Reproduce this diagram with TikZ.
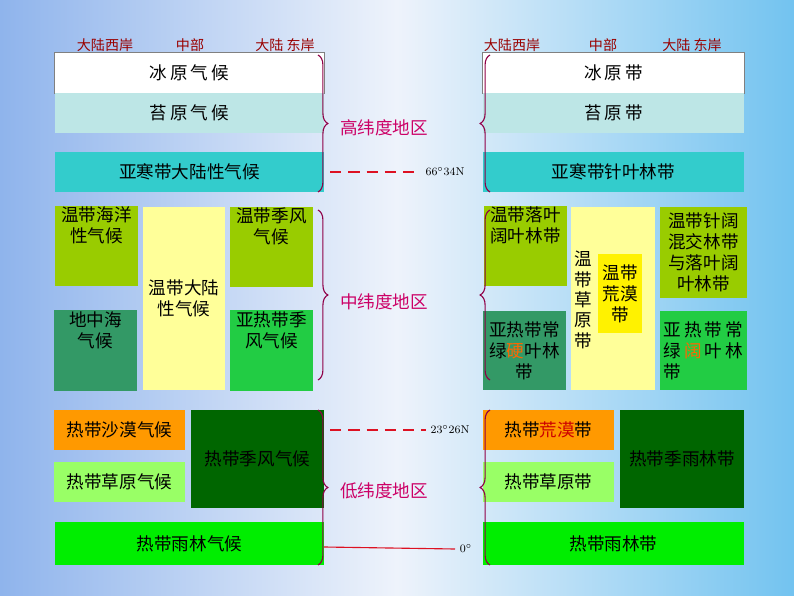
\documentclass[tikz,border=0pt]{standalone}
\usepackage{fontspec}
\newfontfamily\cjk{Noto Sans CJK SC}
\usetikzlibrary{decorations.pathreplacing}
\definecolor{olivez}{HTML}{99CC00}
\definecolor{medz}{HTML}{339966}
\definecolor{greenz}{HTML}{22CC44}
\definecolor{darkz}{HTML}{006600}
\definecolor{grassz}{HTML}{99FF66}
\definecolor{rainz}{HTML}{00EE00}
\definecolor{tundraz}{HTML}{BDE6E6}
\definecolor{taigaz}{HTML}{33CCCC}
\definecolor{steppez}{HTML}{FFFF99}
\definecolor{deserz}{HTML}{FF9900}
\definecolor{regionz}{HTML}{CC0066}
\definecolor{headz}{HTML}{990000}
\definecolor{linez}{HTML}{DD1122}
\definecolor{bgside}{HTML}{8FB4EC}
\definecolor{bgmid}{HTML}{EEF3FB}
\newcommand{\zone}[7]{%
  \node[zonebox, fill=#6, minimum width={(#4-#2)*0.025cm}, minimum height={(#5-#3)*0.025cm}]
    (#1) at ({(#2+#4)/2},{(#3+#5)/2}) {#7};}

\begin{document}
\begin{tikzpicture}[
    x=0.025cm, y=-0.025cm,
    font=\cjk\fontsize{12.5}{15}\selectfont,
    zonebox/.style={rectangle, inner sep=1pt, align=center},
    head/.style={text=headz, font=\cjk\fontsize{10}{12}\selectfont},
    region/.style={text=regionz},
    brace/.style={decorate, decoration={brace, amplitude=7pt}, draw=regionz!70!black, thick},
    lat/.style={draw=linez, thick},
    latlabel/.style={font=\fontsize{8}{10}\selectfont},
]
    \shade[left color=bgside, right color=bgside!80!cyan, middle color=bgmid]
        (0,0) rectangle (794,596);

    % headers
    \node[head] (lw) at (105,45) {大陆西岸};
    \node[head] (lm) at (190,45) {中部};
    \node[head] (le) at (285,45) {大陆 东岸};
    \node[head] (rw) at (512,45) {大陆西岸};
    \node[head] (rm) at (603,45) {中部};
    \node[head] (re) at (692,45) {大陆 东岸};

    % left: climates
    \zone{ice}{55}{53}{324}{93}{white}{冰\,原\,气\,候}
    \draw[gray] (ice.south west) rectangle (ice.north east);
    \zone{tundra}{55}{93}{324}{133}{tundraz}{苔\,原\,气\,候}
    \zone{taiga}{55}{152}{324}{192}{taigaz}{亚寒带大陆性气候}
    \zone{ocean}{55}{207}{138}{285}{olivez}{温带海洋\\性气候\\[1.2em]}
    \zone{cont}{143}{207}{225}{390}{steppez}{温带大陆\\性气候}
    \zone{monsoon}{230}{207}{313}{287}{olivez}{温带季风\\气候\\[1.2em]}
    \zone{medit}{54}{311}{137}{390}{medz}{地中海\\气候\\[1.2em]}
    \zone{submon}{230}{311}{313}{390}{greenz}{亚热带季\\风气候\\[1.2em]}
    \zone{desert}{54}{410}{185}{450}{deserz}{热带沙漠气候}
    \zone{tropmon}{191}{410}{324}{508}{darkz}{热带季风气候}
    \zone{savanna}{54}{462}{185}{502}{grassz}{热带草原气候}
    \zone{rain}{55}{522}{324}{565}{rainz}{热带雨林气候}

    % right: vegetation
    \zone{iceR}{483}{53}{744}{93}{white}{冰\,原\,带}
    \draw[gray] (iceR.south west) rectangle (iceR.north east);
    \zone{tundraR}{483}{93}{744}{133}{tundraz}{苔\,原\,带}
    \zone{taigaR}{483}{152}{744}{192}{taigaz}{亚寒带针叶林带}
    \zone{broadR}{484}{207}{567}{285}{olivez}{温带落叶\\阔叶林带\\[1.2em]}
    \zone{steppeR}{571}{207}{655}{390}{steppez}{}
    \node[align=center, inner sep=0pt, font=\cjk\fontsize{12.5}{14.5}\selectfont] (steppeT) at (583,300) {温\\带\\草\\原\\带};
    \zone{tdesR}{598}{254}{642}{333}{yellow}{温带\\荒漠\\带}
    \zone{mixedR}{660}{207}{747}{298}{olivez}{温带针阔\\混交林带\\与落叶阔\\叶林带}
    \zone{hardR}{483}{311}{566}{390}{medz}{亚热带常\\绿{\color{orange!80!red}硬}叶林\\带}
    \zone{everR}{660}{311}{747}{390}{greenz}{亚\,热\,带\,常\\绿\,{\color{orange!80!red}阔}\,叶\,林\\带\hfill\mbox{}}
    \zone{desertR}{483}{410}{614}{450}{deserz}{热带{\color{red!80!black}荒漠}带}
    \zone{tropmonR}{620}{410}{744}{508}{darkz}{热带季雨林带}
    \zone{savannaR}{483}{462}{614}{502}{grassz}{热带草原带}
    \zone{rainR}{483}{522}{744}{565}{rainz}{热带雨林带}

    % braces and regions
    \draw[brace] (318,55) -- (318,192);
    \draw[brace] (318,210) -- (318,380);
    \draw[brace] (318,410) -- (318,565);
    \draw[brace] (490,192) -- (490,55);
    \draw[brace] (490,380) -- (490,210);
    \draw[brace] (490,565) -- (490,410);
    \node[region] (high) at (384,128) {高纬度地区};
    \node[region] (mid) at (384,302) {中纬度地区};
    \node[region] (low) at (384,491) {低纬度地区};

    % latitude lines
    \node[latlabel] (arctic) at (445,172) {66$^\circ$34N};
    \node[latlabel] (tropic) at (450,430) {23$^\circ$26N};
    \node[latlabel] (equator) at (466,549) {0$^\circ$};
    \coordinate (arcticL) at (330,172);
    \coordinate (tropicL) at (330,430);
    \coordinate (equatorL) at (324,547);
    \draw[lat, dashed, dash pattern=on 8pt off 5pt] (arcticL) -- (arctic.west);
    \draw[lat, dashed, dash pattern=on 8pt off 5pt] (tropicL) -- (tropic.west);
    \draw[lat] (equatorL) -- (equator.west);
\end{tikzpicture}
\end{document}
